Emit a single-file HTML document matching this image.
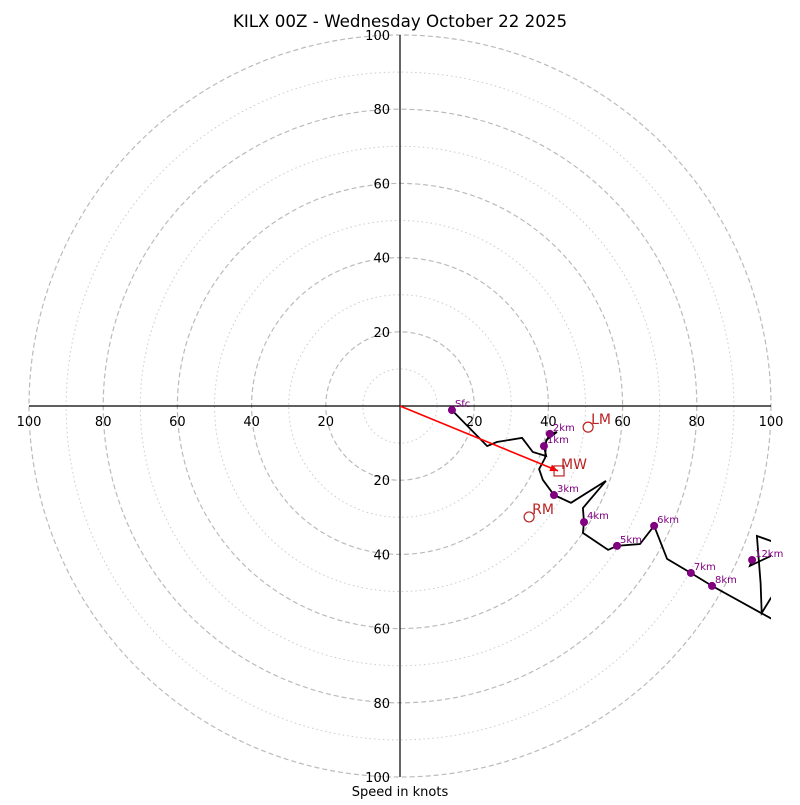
<!DOCTYPE html>
<html><head><meta charset="utf-8"><style>
body{margin:0;background:#fff;}
svg text{font-family:"DejaVu Sans","Liberation Sans",sans-serif;}
</style></head><body>
<svg id="chart" width="800" height="800" xmlns="http://www.w3.org/2000/svg">
<text x="400" y="27" font-size="16.7" text-anchor="middle">KILX 00Z - Wednesday October 22 2025</text>
<text x="400" y="796" font-size="13" text-anchor="middle">Speed in knots</text>
<defs><clipPath id="clip"><rect x="29" y="35" width="742" height="742"/></clipPath></defs>
<g id="grid"></g>
<g id="axes"></g>
<g id="trace" clip-path="url(#clip)"></g>
<g id="marks"></g>
</svg>
<script>
const ticks = [20, 40, 60, 80, 100];
const traceU = [14.0,23.5,26.1,32.9,35.8,39.4,38.8,40.4,42.3,39.4,39.1,37.5,38.5,41.5,46.1,55.5,49.3,49.6,49.3,56.1,58.5,64.7,68.5,72.0,78.4,84.1,96.8,105,104,100,97.5,97.2,96.2,100,105,105,100,94.3,94.9];
const traceV = [-1.1,-10.8,-9.7,-8.6,-12.4,-13.5,-10.8,-7.5,-7.0,-9.2,-14.0,-17.0,-19.9,-24.0,-26.1,-20.2,-27.5,-31.3,-34.2,-38.8,-37.7,-37.2,-32.3,-41.2,-45.0,-48.5,-55.5,-60,-48,-51.7,-55.8,-47.7,-35.0,-36.4,-38,-38.5,-40.4,-43.1,-41.5];
const kmLabels = ["Sfc","1km","2km","3km","4km","5km","6km","7km","8km","12km"];
const kmU = [14.0,38.8,40.4,41.5,49.6,58.5,68.5,78.4,84.1,94.9];
const kmV = [-1.1,-10.8,-7.5,-24.0,-31.3,-37.7,-32.3,-45.0,-48.5,-41.5];
const mwU = 42.6, mwV = -17.5;
const lmU = 50.7, lmV = -5.7;
const rmU = 34.8, rmV = -29.9;

const CX=400, CY=406, S=3.71;
const sx=u=>CX+u*S, sy=v=>CY-v*S;
const NS="http://www.w3.org/2000/svg";
function mk(tag, attrs, parent){const e=document.createElementNS(NS,tag);for(const k in attrs)e.setAttribute(k,attrs[k]);document.getElementById(parent).appendChild(e);return e;}

for(let r=10;r<=100;r+=10){
  const major=r%20===0;
  const c=mk('circle',{cx:CX,cy:CY,r:r*S,fill:'none',stroke:major?'#bbb':'#ccc','stroke-width':major?1.2:1,'stroke-dasharray':major?'5,3':'1.5,3'},'grid');
  
  
}
let l=mk('line',{x1:sx(-100),y1:CY,x2:sx(100),y2:CY,stroke:'#000','stroke-width':1.2},'axes');


l=mk('line',{x1:CX,y1:sy(100),x2:CX,y2:sy(-100),stroke:'#000','stroke-width':1.2},'axes');


ticks.forEach(t=>{
  [t,-t].forEach(v=>{
    let tx=mk('text',{x:sx(v),y:CY+20,'font-size':13,'text-anchor':'middle'},'axes');tx.textContent=t;
    
    
    let ty=mk('text',{x:CX-10,y:sy(v)+5,'font-size':13,'text-anchor':'end'},'axes');ty.textContent=t;
    
    
  });
});
const pts=traceU.map((u,i)=>sx(u).toFixed(1)+','+sy(traceV[i]).toFixed(1)).join(' ');
const pl=mk('polyline',{points:pts,fill:'none',stroke:'#000','stroke-width':1.8,'stroke-linejoin':'miter'},'trace');


const ax=sx(mwU), ay=sy(mwV);
const ar=mk('line',{x1:CX,y1:CY,x2:ax,y2:ay,stroke:'#f00','stroke-width':1.6},'marks');


const ang=Math.atan2(ay-CY,ax-CX);
const hp=[[ax,ay],[ax-8*Math.cos(ang)+3.5*Math.sin(ang),ay-8*Math.sin(ang)-3.5*Math.cos(ang)],[ax-8*Math.cos(ang)-3.5*Math.sin(ang),ay-8*Math.sin(ang)+3.5*Math.cos(ang)]];
const hd=mk('polygon',{points:hp.map(p=>p.join(',')).join(' '),fill:'#f00'},'marks');


const mw=mk('rect',{x:ax-4,y:ay-5,width:10,height:10,fill:'none',stroke:'#b22','stroke-width':1.2},'marks');


let t=mk('text',{x:ax+3,y:ay-2,'font-size':14,fill:'#b22'},'marks');t.textContent='MW';


[[lmU,lmV,'LM','left-mover'],[rmU,rmV,'RM','right-mover']].forEach(m=>{
  const c=mk('circle',{cx:sx(m[0]),cy:sy(m[1]),r:5,fill:'none',stroke:'#b22','stroke-width':1.2},'marks');
  
  
  const tt=mk('text',{x:sx(m[0])+3,y:sy(m[1])-3,'font-size':14,fill:'#b22'},'marks');tt.textContent=m[2];
  
  
});
kmLabels.forEach((lab,i)=>{
  const c=mk('circle',{cx:sx(kmU[i]),cy:sy(kmV[i]),r:4,fill:'#800080'},'marks');
  
  
  const tt=mk('text',{x:sx(kmU[i])+3,y:sy(kmV[i])-3,'font-size':10,fill:'#800080'},'marks');tt.textContent=lab;
  
  
});
</script>
</body></html>
